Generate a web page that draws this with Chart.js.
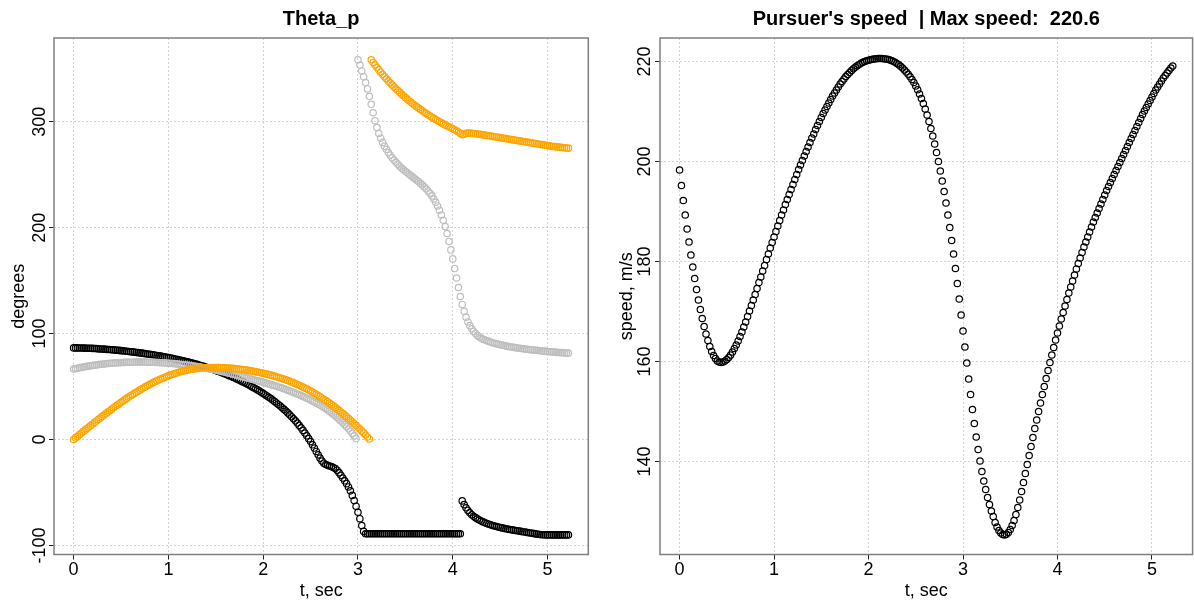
<!DOCTYPE html>
<html>
<head>
<meta charset="utf-8">
<script src="https://cdn.jsdelivr.net/npm/chart.js@4.4.1/dist/chart.umd.min.js"></script>
<style>
    html, body { margin: 0; padding: 0; background: #fff; width: 1194px; height: 604px; overflow: hidden; }
    #thetaChart { position: absolute; left: 0; top: 0; }
    #speedChart { position: absolute; left: 597px; top: 0; }
</style>
</head>
<body>
<canvas id="thetaChart" width="597" height="604"></canvas>
<canvas id="speedChart" width="600" height="604"></canvas>
<script>
// samples every 0.02 s, t = 0 ... 5.22 (rows of 10 = 0.2 s)
const sampleStep = 0.02;

const thetaBlack = [
    86.5, 86.5, 86.5, 86.4, 86.4, 86.3, 86.3, 86.2, 86.1, 86.1,
    86.0, 85.9, 85.8, 85.6, 85.5, 85.4, 85.3, 85.1, 85.0, 84.9,
    84.7, 84.6, 84.4, 84.2, 84.1, 83.9, 83.7, 83.5, 83.3, 83.1,
    82.9, 82.7, 82.5, 82.2, 82.0, 81.8, 81.5, 81.3, 81.0, 80.7,
    80.5, 80.2, 79.9, 79.6, 79.3, 79.0, 78.7, 78.3, 78.0, 77.7,
    77.3, 77.0, 76.6, 76.2, 75.8, 75.4, 75.0, 74.6, 74.2, 73.7,
    73.3, 72.8, 72.4, 71.9, 71.4, 70.9, 70.4, 69.9, 69.3, 68.8,
    68.2, 67.6, 67.0, 66.4, 65.8, 65.2, 64.5, 63.9, 63.2, 62.5,
    61.8, 61.1, 60.3, 59.6, 58.8, 58.0, 57.2, 56.4, 55.5, 54.6,
    53.7, 52.8, 51.9, 50.9, 49.9, 48.9, 47.9, 46.8, 45.7, 44.6,
    43.5, 42.3, 41.1, 39.9, 38.6, 37.3, 35.9, 34.5, 33.1, 31.6,
    30.0, 28.4, 26.8, 25.1, 23.3, 21.5, 19.6, 17.6, 15.5, 13.3,
    11.0, 8.6, 6.1, 3.5, 0.8, -2.0, -5.0, -8.1, -11.3, -14.5,
    -17.6, -20.4, -22.4, -23.6, -24.4, -25.0, -25.6, -26.4, -27.5, -29.0,
    -31.3, -33.8, -36.4, -39.0, -41.7, -44.8, -48.5, -52.8, -57.7, -63.0,
    -68.7, -74.8, -81.2, -86.8, -89.0, -89.0, -89.0, -89.0, -89.0, -89.0,
    -89.0, -89.0, -89.0, -89.0, -89.0, -89.0, -89.0, -89.0, -89.0, -89.0,
    -89.0, -89.0, -89.0, -89.0, -89.0, -89.0, -89.0, -89.0, -89.0, -89.0,
    -89.0, -89.0, -89.0, -89.0, -89.0, -89.0, -89.0, -89.0, -89.0, -89.0,
    -89.0, -89.0, -89.0, -89.0, -89.0, -89.0, -89.0, -89.0, -89.0, -89.0,
    -89.0, -89.0, -89.0, -89.0, -89.0, -58.0, -61.5, -64.5, -67.0, -69.2,
    -71.0, -72.5, -73.8, -75.0, -76.0, -77.0, -77.8, -78.6, -79.3, -80.0,
    -80.6, -81.2, -81.7, -82.2, -82.7, -83.1, -83.5, -83.9, -84.3, -84.6,
    -85.0, -85.3, -85.6, -85.9, -86.2, -86.5, -86.8, -87.1, -87.4, -87.7,
    -88.0, -88.3, -88.6, -88.9, -89.2, -89.5, -89.7, -89.9, -90.0, -90.1,
    -90.1, -90.1, -90.1, -90.1, -90.1, -90.1, -90.1, -90.1, -90.1, -90.1,
    -90.1, -90.1
];

const thetaGray = [
    66.5, 66.9, 67.3, 67.7, 68.0, 68.4, 68.7, 69.0, 69.3, 69.6,
    69.9, 70.2, 70.4, 70.7, 70.9, 71.1, 71.3, 71.5, 71.7, 71.9,
    72.0, 72.2, 72.3, 72.4, 72.5, 72.6, 72.7, 72.8, 72.9, 72.9,
    73.0, 73.0, 73.1, 73.1, 73.1, 73.1, 73.1, 73.1, 73.1, 73.0,
    73.0, 72.9, 72.9, 72.8, 72.7, 72.6, 72.5, 72.4, 72.3, 72.2,
    72.0, 71.9, 71.7, 71.6, 71.4, 71.2, 71.0, 70.8, 70.6, 70.4,
    70.2, 69.9, 69.7, 69.4, 69.1, 68.9, 68.6, 68.3, 68.0, 67.6,
    67.3, 67.0, 66.6, 66.3, 65.9, 65.5, 65.1, 64.7, 64.3, 63.9,
    63.5, 63.1, 62.6, 62.2, 61.7, 61.3, 60.8, 60.3, 59.8, 59.3,
    58.8, 58.3, 57.9, 57.4, 56.9, 56.4, 55.9, 55.4, 54.9, 54.5,
    54.0, 53.5, 52.9, 52.4, 51.8, 51.3, 50.7, 50.2, 49.6, 49.1,
    48.5, 47.9, 47.2, 46.5, 45.8, 45.1, 44.4, 43.7, 42.9, 42.2,
    41.4, 40.6, 39.8, 39.0, 38.2, 37.3, 36.4, 35.5, 34.5, 33.5,
    32.5, 31.4, 30.3, 29.1, 27.9, 26.6, 25.2, 23.8, 22.3, 20.8,
    19.2, 17.5, 15.8, 14.0, 12.1, 10.1, 8.0, 5.8, 3.4, 0.9,
    358.5, 353.5, 348.0, 342.5, 337.0, 331.0, 324.0, 316.5, 308.5, 301.0,
    294.5, 289.0, 284.5, 280.5, 277.0, 274.0, 271.0, 268.5, 266.0, 263.8,
    261.8, 259.8, 258.0, 256.3, 254.7, 253.2, 251.8, 250.4, 249.0, 247.6,
    246.2, 244.8, 243.3, 241.8, 240.2, 238.5, 236.7, 234.7, 232.5, 230.0,
    227.0, 224.0, 220.5, 216.5, 212.0, 207.0, 201.0, 194.5, 187.0, 179.0,
    170.5, 161.5, 152.5, 143.5, 135.0, 127.5, 121.0, 115.5, 111.0, 107.5,
    104.5, 102.0, 100.0, 98.3, 96.8, 95.5, 94.7, 93.9, 93.2, 92.6,
    92.0, 91.4, 90.9, 90.4, 89.9, 89.5, 89.1, 88.7, 88.3, 87.9,
    87.6, 87.3, 87.0, 86.7, 86.4, 86.2, 85.9, 85.7, 85.5, 85.2,
    85.0, 84.8, 84.6, 84.4, 84.2, 84.0, 83.8, 83.6, 83.4, 83.3,
    83.1, 82.9, 82.8, 82.6, 82.5, 82.3, 82.2, 82.0, 81.9, 81.7,
    81.6, 81.5
];

const thetaOrange = [
    0.0, 1.5, 2.9, 4.4, 5.9, 7.4, 8.8, 10.3, 11.7, 13.2,
    14.6, 16.1, 17.5, 18.9, 20.3, 21.7, 23.1, 24.5, 25.9, 27.2,
    28.6, 29.9, 31.2, 32.5, 33.8, 35.1, 36.3, 37.6, 38.8, 40.0,
    41.2, 42.3, 43.5, 44.6, 45.7, 46.8, 47.8, 48.9, 49.9, 50.9,
    51.8, 52.8, 53.7, 54.6, 55.4, 56.3, 57.1, 57.9, 58.6, 59.4,
    60.1, 60.8, 61.4, 62.0, 62.6, 63.2, 63.7, 64.2, 64.7, 65.1,
    65.5, 65.9, 66.3, 66.6, 66.9, 67.1, 67.3, 67.5, 67.7, 67.8,
    67.9, 68.0, 68.0, 68.0, 68.0, 68.0, 67.9, 67.9, 67.8, 67.7,
    67.6, 67.5, 67.4, 67.2, 67.1, 66.9, 66.7, 66.5, 66.3, 66.1,
    65.8, 65.6, 65.3, 65.0, 64.7, 64.4, 64.0, 63.7, 63.3, 62.9,
    62.5, 62.1, 61.7, 61.2, 60.8, 60.3, 59.8, 59.3, 58.7, 58.1,
    57.5, 56.9, 56.3, 55.6, 54.9, 54.2, 53.5, 52.7, 51.9, 51.1,
    50.3, 49.4, 48.5, 47.6, 46.7, 45.7, 44.7, 43.7, 42.6, 41.5,
    40.4, 39.2, 38.0, 36.8, 35.6, 34.3, 33.0, 31.7, 30.3, 28.9,
    27.5, 26.0, 24.5, 23.0, 21.5, 19.9, 18.3, 16.7, 15.0, 13.3,
    11.6, 9.8, 8.0, 6.2, 4.3, 2.4, 0.5, 358.5, 356.0, 353.6,
    351.3, 349.0, 346.8, 344.7, 342.6, 340.6, 338.6, 336.7, 334.8, 333.0,
    331.2, 329.5, 327.8, 326.1, 324.5, 322.9, 321.4, 319.9, 318.4, 317.0,
    315.6, 314.2, 312.9, 311.6, 310.3, 309.0, 307.8, 306.6, 305.4, 304.3,
    303.2, 302.1, 301.0, 300.0, 299.0, 298.0, 297.0, 296.1, 295.2, 294.3,
    293.4, 292.5, 291.5, 290.3, 289.0, 287.8, 288.3, 289.0, 289.3, 289.3,
    289.1, 288.9, 288.7, 288.4, 288.2, 287.9, 287.6, 287.4, 287.1, 286.8,
    286.5, 286.2, 285.9, 285.6, 285.3, 285.0, 284.7, 284.4, 284.1, 283.8,
    283.5, 283.2, 282.9, 282.6, 282.3, 282.0, 281.7, 281.4, 281.1, 280.8,
    280.5, 280.2, 279.9, 279.6, 279.3, 279.0, 278.7, 278.4, 278.1, 277.8,
    277.5, 277.2, 276.9, 276.7, 276.5, 276.3, 276.1, 275.9, 275.7, 275.5,
    275.3, 275.1
];

const speed = [
    198.3, 195.2, 192.2, 189.3, 186.5, 183.9, 181.3, 178.9, 176.6, 174.4,
    172.3, 170.4, 168.6, 167.0, 165.5, 164.2, 163.0, 162.0, 161.2, 160.6,
    160.1, 159.9, 159.8, 159.9, 160.1, 160.4, 160.8, 161.3, 161.9, 162.6,
    163.3, 164.1, 165.0, 165.9, 166.9, 167.9, 169.0, 170.1, 171.2, 172.3,
    173.4, 174.6, 175.8, 176.9, 178.1, 179.2, 180.4, 181.5, 182.7, 183.8,
    184.9, 186.0, 187.1, 188.2, 189.3, 190.3, 191.4, 192.4, 193.4, 194.4,
    195.4, 196.4, 197.4, 198.4, 199.3, 200.2, 201.1, 202.0, 202.9, 203.8,
    204.7, 205.5, 206.4, 207.2, 208.0, 208.8, 209.6, 210.3, 211.0, 211.7,
    212.4, 213.1, 213.7, 214.3, 214.9, 215.5, 216.0, 216.5, 217.0, 217.4,
    217.8, 218.2, 218.55, 218.85, 219.15, 219.4, 219.65, 219.85, 220.0, 220.15,
    220.25, 220.35, 220.45, 220.5, 220.55, 220.6, 220.6, 220.6, 220.55, 220.5,
    220.45, 220.35, 220.2, 220.05, 219.85, 219.6, 219.35, 219.05, 218.7, 218.3,
    217.9, 217.45, 216.95, 216.4, 215.8, 215.1, 214.35, 213.5, 212.6, 211.6,
    210.5, 209.3, 208.0, 206.6, 205.1, 203.5, 201.8, 200.0, 198.1, 196.1,
    194.0, 191.7, 189.3, 186.8, 184.2, 181.5, 178.6, 175.6, 172.5, 169.3,
    166.1, 162.9, 159.7, 156.5, 153.4, 150.4, 147.6, 144.9, 142.4, 140.1,
    138.0, 136.1, 134.4, 132.8, 131.4, 130.1, 129.0, 127.8, 126.9, 126.2,
    125.7, 125.4, 125.3, 125.45, 125.8, 126.4, 127.2, 128.2, 129.4, 130.8,
    132.3, 134.0, 135.8, 137.6, 139.4, 141.2, 143.0, 144.8, 146.6, 148.3,
    150.0, 151.7, 153.4, 155.0, 156.6, 158.2, 159.8, 161.3, 162.8, 164.3,
    165.7, 167.1, 168.5, 169.8, 171.1, 172.4, 173.7, 174.9, 176.1, 177.3,
    178.5, 179.6, 180.7, 181.8, 182.9, 183.9, 184.9, 185.9, 186.9, 187.9,
    188.8, 189.7, 190.6, 191.5, 192.4, 193.3, 194.2, 195.0, 195.8, 196.6,
    197.4, 198.2, 199.0, 199.8, 200.6, 201.4, 202.2, 203.0, 203.8, 204.6,
    205.4, 206.2, 207.0, 207.8, 208.6, 209.4, 210.1, 210.8, 211.5, 212.2,
    212.9, 213.6, 214.3, 214.9, 215.5, 216.1, 216.7, 217.2, 217.7, 218.2,
    218.7, 219.1
];

// axis limits (R style, data range + 4%)
const timeRange = [-0.207, 5.43];
const thetaRange = [-108.6, 379.1];
const speedRange = [121.4, 224.7];

const times = speed.map((_, i) => Math.round(i * sampleStep * 100) / 100);

Chart.defaults.font.family = '"Liberation Sans", Arial, sans-serif';
Chart.defaults.color = '#000';

// grey box round the plot region
const plotFrame = {
    id: 'plotFrame',
    afterDraw(chart) {
        const { ctx, chartArea: a } = chart;
        ctx.save();
        ctx.strokeStyle = '#7f7f7f';
        ctx.lineWidth = 1.5;
        ctx.strokeRect(a.left, a.top, a.right - a.left, a.bottom - a.top);
        ctx.restore();
    }
};

function toPoints(values) {
    return values.map((v, i) => ({ x: times[i], y: v }));
}

function circles(label, values, color, order) {
    return {
        label: label,
        data: toPoints(values),
        showLine: false,
        borderColor: color,
        backgroundColor: 'rgba(0,0,0,0)',
        pointRadius: 3.2,
        pointHoverRadius: 3.2,
        pointBorderWidth: 1.2,
        order: order
    };
}

function xAxis() {
    return {
        type: 'linear',
        min: timeRange[0],
        max: timeRange[1],
        afterFit: s => { s.height = 49.5; },
        ticks: { stepSize: 1, includeBounds: false, autoSkip: false, maxRotation: 0, padding: 0, font: { size: 18 } },
        grid: { color: '#d3d3d3', lineWidth: 1, tickLength: 5, tickColor: '#222', tickWidth: 1 },
        border: { display: false, dash: [2, 2] },
        title: { display: true, text: 't, sec', font: { size: 18 }, padding: { top: 0, bottom: 2 } }
    };
}

function yAxis(range, step, width, labelPad, title, titlePad) {
    return {
        type: 'linear',
        min: range[0],
        max: range[1],
        afterFit: s => { s.width = width; },
        ticks: {
            stepSize: step, includeBounds: false, autoSkip: false,
            minRotation: 90, maxRotation: 90, crossAlign: 'center',
            padding: labelPad, font: { size: 18 }
        },
        grid: { color: '#d3d3d3', lineWidth: 1, tickLength: 5, tickColor: '#222', tickWidth: 1 },
        border: { display: false, dash: [2, 2] },
        title: { display: true, text: title, font: { size: 18 }, padding: { top: titlePad, bottom: 0 } }
    };
}

function baseOptions(titleText, rightPad) {
    return {
        responsive: false,
        animation: false,
        events: [],
        layout: { padding: { left: 0, right: rightPad, top: 0, bottom: 0 } },
        plugins: {
            legend: { display: false },
            tooltip: { enabled: false },
            title: {
                display: true,
                text: titleText,
                fullSize: false,
                color: '#000',
                font: { size: 20, weight: 'bold' },
                padding: { top: 7, bottom: 7 }
            }
        }
    };
}

const thetaOpts = baseOptions('Theta_p', 8.7);
thetaOpts.scales = {
    x: xAxis(),
    y: yAxis(thetaRange, 100, 54, -9, 'degrees', 8)
};

new Chart(document.getElementById('thetaChart'), {
    type: 'scatter',
    data: {
        datasets: [
            circles('black', thetaBlack, '#000000', 2),
            circles('gray', thetaGray, '#bebebe', 1),
            circles('orange', thetaOrange, '#ffa500', 0)
        ]
    },
    options: thetaOpts,
    plugins: [plotFrame]
});

const maxSpeed = Math.max(...speed).toFixed(1);
const speedOpts = baseOptions("Pursuer's speed  | Max speed:  " + maxSpeed, 2);
speedOpts.scales = {
    x: xAxis(),
    y: yAxis(speedRange, 20, 63, -5.2, 'speed, m/s', 19)
};

new Chart(document.getElementById('speedChart'), {
    type: 'scatter',
    data: { datasets: [circles('speed', speed, '#000000', 0)] },
    options: speedOpts,
    plugins: [plotFrame]
});
</script>
</body>
</html>
